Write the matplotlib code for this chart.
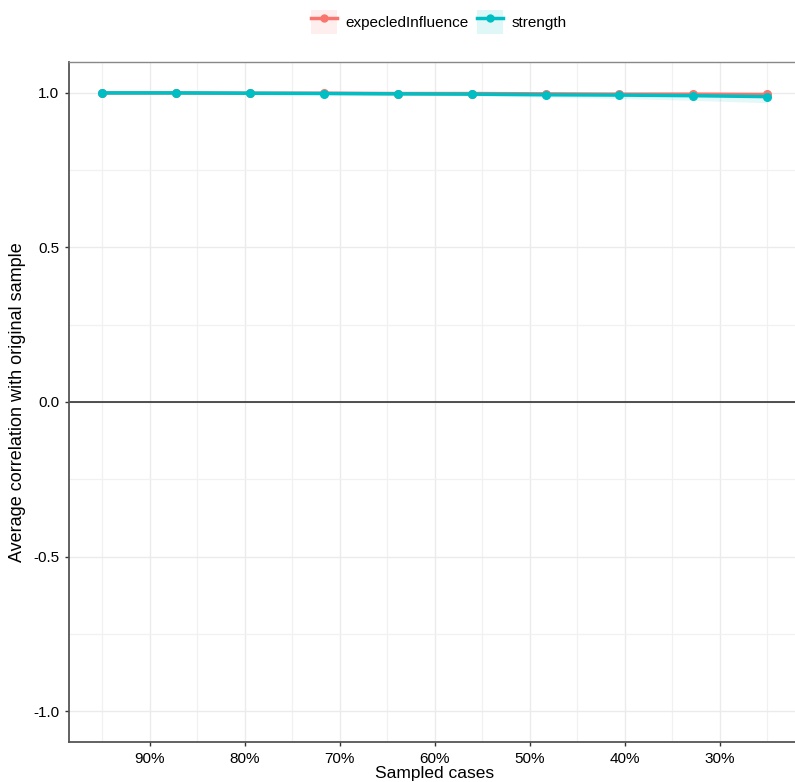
import numpy as np
import matplotlib
import matplotlib.pyplot as plt
from matplotlib.lines import Line2D
from matplotlib.patches import Patch
from matplotlib.ticker import MultipleLocator, FuncFormatter

matplotlib.rcParams.update({"font.family": ["Liberation Sans", "DejaVu Sans"], "font.size": 10})

sampled = [95.0, 87.2, 79.4, 71.7, 63.9, 56.1, 48.3, 40.6, 32.8, 25.0]

ei_mean = [1.000, 1.000, 0.999, 0.999, 0.998, 0.998, 0.997, 0.996, 0.996, 0.995]
ei_low = [0.999, 0.999, 0.998, 0.997, 0.996, 0.995, 0.993, 0.991, 0.989, 0.985]
ei_high = [1.000, 1.000, 1.000, 1.000, 1.000, 0.999, 0.999, 0.999, 0.999, 0.999]

st_mean = [1.000, 1.000, 0.999, 0.998, 0.997, 0.996, 0.994, 0.993, 0.991, 0.988]
st_low = [0.999, 0.998, 0.997, 0.995, 0.993, 0.990, 0.986, 0.982, 0.976, 0.968]
st_high = [1.000, 1.000, 1.000, 1.000, 0.999, 0.999, 0.999, 0.998, 0.998, 0.997]

red = "#F8766D"
teal = "#00BFC4"

fig = plt.figure(figsize=(7.95, 7.82), dpi=100)
ax = fig.add_axes([0.0868, 0.0512, 0.92, 0.8695])

ax.fill_between(sampled, ei_low, ei_high, color=red, alpha=0.1, linewidth=0)
ax.fill_between(sampled, st_low, st_high, color=teal, alpha=0.1, linewidth=0)
ax.plot(sampled, ei_mean, color=red, lw=2.5, marker="o", ms=5.5, zorder=3)
ax.plot(sampled, st_mean, color=teal, lw=2.5, marker="o", ms=5.5, zorder=4)

ax.axhline(0, color="#222222", lw=1.1, zorder=2)

ax.set_xlim(98.5, 21.5)
ax.set_ylim(-1.1, 1.1)

ax.xaxis.set_major_locator(MultipleLocator(10))
ax.xaxis.set_minor_locator(MultipleLocator(5))
ax.yaxis.set_major_locator(MultipleLocator(0.5))
ax.yaxis.set_minor_locator(MultipleLocator(0.25))
ax.xaxis.set_major_formatter(FuncFormatter(lambda v, p: "%d%%" % round(v)))
ax.yaxis.set_major_formatter(FuncFormatter(lambda v, p: "%.1f" % v))

ax.grid(which="major", color="#EBEBEB", lw=1.0)
ax.grid(which="minor", color="#F1F1F1", lw=0.9)
ax.set_axisbelow(True)

ax.tick_params(which="major", length=3, width=1, color="#333333", labelsize=11,
               labelcolor="black", pad=4)
ax.tick_params(which="minor", length=0)

for s in ["left", "bottom"]:
    ax.spines[s].set_color("#555555")
    ax.spines[s].set_linewidth(1.3)
for s in ["top", "right"]:
    ax.spines[s].set_color("#888888")
    ax.spines[s].set_linewidth(1.0)

ax.set_xlabel("Sampled cases", fontsize=12.5, labelpad=0)
ax.set_ylabel("Average correlation with original sample", fontsize=13, labelpad=5)

handles = [
    (Patch(facecolor=red, alpha=0.12, edgecolor="none"),
     Line2D([], [], color=red, lw=2.5, marker="o", ms=5)),
    (Patch(facecolor=teal, alpha=0.12, edgecolor="none"),
     Line2D([], [], color=teal, lw=2.5, marker="o", ms=5)),
]
fig.legend(handles, ["expecledInfluence", "strength"], loc="center",
           bbox_to_anchor=(0.552, 0.972), ncol=2, frameon=False, fontsize=11,
           handlelength=1.7, handleheight=2.0, handletextpad=0.5, columnspacing=0.6)

fig.savefig("out.png", dpi=100)
